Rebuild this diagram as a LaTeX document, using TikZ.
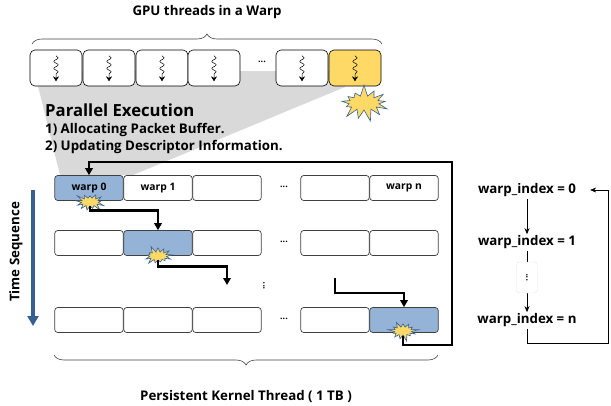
\documentclass[tikz,border=0pt]{standalone}
\usepackage{fontspec}
\setmainfont{Open Sans}
\usetikzlibrary{arrows.meta,positioning,shapes.symbols,decorations.pathmorphing,decorations.pathreplacing}
\definecolor{warpblue}{HTML}{95B3D7}
\definecolor{warpyellow}{HTML}{FFD966}
\definecolor{timeblue}{HTML}{376092}
\definecolor{boxgray}{HTML}{404040}
\tikzset{
  threadbox/.style={draw=black,fill=white,rounded corners=5pt,minimum width=52pt,minimum height=36pt,inner sep=0pt,line width=0.6pt},
  warpbox/.style={draw=boxgray,fill=white,rounded corners=3pt,minimum width=68.5pt,minimum height=25pt,inner sep=0pt,line width=0.7pt,font=\bfseries\fontsize{10.3}{12}\selectfont},
  burst/.style={shape=starburst,draw=timeblue,fill=warpyellow,line width=0.6pt,inner sep=0pt,starburst points=13},
  smallburst/.style={burst,minimum width=31pt,minimum height=22pt,starburst point height=7pt},
  flowline/.style={line width=2.2pt,-{Triangle[length=7pt,width=7.5pt]}},
  wiggle/.style={decorate,decoration={snake,amplitude=2.2pt,segment length=7pt,post length=5pt},line width=0.5pt,-{Stealth[length=5pt,width=6pt]}},
  stepline/.style={line width=0.6pt,-{Stealth[length=6pt,width=5pt]}},
  txt/.style={font=\bfseries\fontsize{13.3}{15}\selectfont,inner sep=0pt},
  dotlabel/.style={font=\bfseries\fontsize{9}{10}\selectfont},
  bracket/.style={decorate,decoration={brace,amplitude=10pt},line width=0.6pt,draw=boxgray}
}
\begin{document}
\begin{tikzpicture}[x=1pt,y=-1pt]
    \useasboundingbox (0,0) rectangle (611,405);
    % Gray fan behind the threads
    \fill[black!15] (30,71) -- (345,71) -- (345,87) -- (133,175) -- (60,175) -- (38,86) -- cycle;
    % Threads
    \node[threadbox] (t1) at (56,68) {};
    \node[threadbox] (t2) at (109,68) {};
    \node[threadbox] (t3) at (162,68) {};
    \node[threadbox] (t4) at (214,68) {};
    \node[threadbox] (t5) at (302,68) {};
    \node[threadbox,fill=warpyellow] (t6) at (355,68) {};
    \node[dotlabel] (tdots) at (262,62) {...};
    \draw[wiggle] ([yshift=-6pt]t1.north) -- ([yshift=5pt]t1.south);
    \draw[wiggle] ([yshift=-6pt]t2.north) -- ([yshift=5pt]t2.south);
    \draw[wiggle] ([yshift=-6pt]t3.north) -- ([yshift=5pt]t3.south);
    \draw[wiggle] ([yshift=-6pt]t4.north) -- ([yshift=5pt]t4.south);
    \draw[wiggle] ([yshift=-6pt]t5.north) -- ([yshift=5pt]t5.south);
    \draw[wiggle] ([yshift=-6pt]t6.north) -- ([yshift=5pt]t6.south);
    \node[burst,minimum width=54pt,minimum height=38pt,starburst point height=12pt,random starburst=7] (bigburst) at (364,103) {};
    % Brace and title
    \coordinate (ttl) at (32,44);
    \coordinate (ttr) at (382,44);
    \draw[bracket] (ttl) -- (ttr);
    \node[txt] (gputitle) at (207,12) {GPU threads in a Warp};
    % Parallel execution text
    \node[inner sep=0pt,anchor=west,font=\bfseries\fontsize{16.7}{18}\selectfont] (partitle) at (45,110) {Parallel Execution};
    \node[txt,anchor=west] (par1) at (45,130) {1) Allocating Packet Buffer.};
    \node[txt,anchor=west] (par2) at (45,147) {2) Updating Descriptor Information.};
    % Warp rows
    \node[warpbox,fill=warpblue] (w00) at (89,188) {warp 0};
    \node[warpbox] (w01) at (158,188) {warp 1};
    \node[warpbox] (w02) at (227,188) {};
    \node[warpbox] (w03) at (335,188) {};
    \node[warpbox] (w04) at (404,188) {warp n};
    \node[warpbox] (w10) at (89,243) {};
    \node[warpbox,fill=warpblue] (w11) at (158,243) {};
    \node[warpbox] (w12) at (227,243) {};
    \node[warpbox] (w13) at (335,243) {};
    \node[warpbox] (w14) at (404,243) {};
    \node[warpbox] (w20) at (89,320) {};
    \node[warpbox] (w21) at (158,320) {};
    \node[warpbox] (w22) at (227,320) {};
    \node[warpbox] (w23) at (335,320) {};
    \node[warpbox,fill=warpblue] (w24) at (404,320) {};
    % Dots between boxes
    \node[dotlabel] (d0) at (284,187) {...};
    \node[dotlabel] (d1) at (284,242) {...};
    \node[dotlabel] (d2) at (284,319) {...};
    \node[dotlabel,rotate=90] (d3) at (264,286) {...};
    % Bursts
    \node[smallburst,random starburst=3] (s0) at (90,202) {};
    \node[smallburst,random starburst=5] (s1) at (158,256) {};
    \node[smallburst,random starburst=9] (s2) at (403,331) {};
    % Thick flow
    \coordinate (gapstart) at (335,278);
    \coordinate (gapend) at (227,285);
    \coordinate (flowcorner) at (452,162);
    \draw[flowline] (s0.south) -- ++(0,4) -| (w11.north);
    \draw[flowline] (s1.south) -- ++(0,6) -| (gapend);
    \draw[flowline] (gapstart) |- ++(30,15) -| (w24.north);
    \draw[flowline] (s2.south) |- (flowcorner |- 0,345) -- (flowcorner) -| (w00.north);
    % Time axis
    \coordinate (timetop) at (33,190);
    \coordinate (timebot) at (33,326);
    \draw[timeblue,line width=4pt,-{Triangle[length=10pt,width=11pt]}] (timetop) -- (timebot);
    \node[txt,rotate=90] (timelbl) at (16,252) {Time Sequence};
    % Lower brace
    \coordinate (bbl) at (438,355);
    \coordinate (bbr) at (54,355);
    \draw[bracket] (bbl) -- (bbr);
    \node[txt] (kernel) at (246,396) {Persistent Kernel Thread ( 1 TB )};
    % Index list
    \node[txt] (idx0) at (527,190) {warp\_index = 0};
    \node[txt] (idx1) at (527,242) {warp\_index = 1};
    \node[txt] (idxn) at (527,320) {warp\_index = n};
    \draw[stepline] ([yshift=-2pt]idx0.south) -- ([yshift=1pt]idx1.north);
    \draw[stepline] ([yshift=-2pt]idx1.south) -- ([yshift=1pt]idxn.north);
    \node[draw=black!10,fill=white,rounded corners=3pt,minimum width=21pt,minimum height=31pt,inner sep=0pt,dotlabel] (idxdots) at (527,277.5) {\rotatebox{90}{...}};
    \draw[stepline] ([yshift=-2pt]idxn.south) |- (608,343) |- ([xshift=14pt]idx0.east);
\end{tikzpicture}
\end{document}
